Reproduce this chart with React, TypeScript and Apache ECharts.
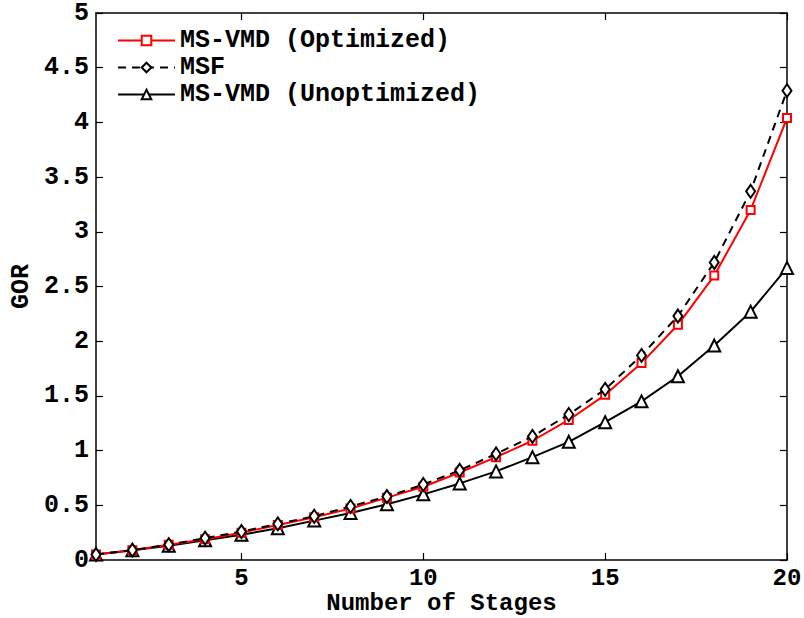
import React, { useEffect, useRef } from "react";
import * as echarts from "echarts";

const stages = [1, 2, 3, 4, 5, 6, 7, 8, 9, 10, 11, 12, 13, 14, 15, 16, 17, 18, 19, 20];
const optimized = [0.05, 0.09, 0.14, 0.19, 0.25, 0.32, 0.39, 0.47, 0.57, 0.67, 0.8, 0.94, 1.09, 1.28, 1.51, 1.8, 2.15, 2.6, 3.2, 4.04];
const msf = [0.05, 0.09, 0.14, 0.2, 0.26, 0.33, 0.4, 0.49, 0.58, 0.69, 0.82, 0.97, 1.13, 1.33, 1.56, 1.87, 2.23, 2.72, 3.37, 4.29];
const unoptimized = [0.05, 0.09, 0.13, 0.18, 0.23, 0.29, 0.36, 0.43, 0.51, 0.6, 0.7, 0.81, 0.94, 1.08, 1.26, 1.45, 1.68, 1.96, 2.27, 2.67];
const xTicks = [5, 10, 15, 20];
const seriesNames = ["MS-VMD (Optimized)", "MSF", "MS-VMD (Unoptimized)"];

const FONT = "'Liberation Mono', 'DejaVu Sans Mono', monospace";
const FS = 25;

export default function App() {
  const ref = useRef<HTMLDivElement>(null);
  useEffect(() => {
    if (!ref.current) return;
    const chart = echarts.init(ref.current, null, { renderer: "svg" });
    const pairs = (ys: number[]) => stages.map((x, i) => [x, ys[i]]);
    const axisLine = { show: true, onZero: false, lineStyle: { color: "#000", width: 1.5 } };
    const xTick = { show: true, inside: true, length: 7, customValues: xTicks, lineStyle: { color: "#000", width: 1.2 } };
    const yTick = { show: true, inside: true, length: 7, lineStyle: { color: "#000", width: 1.2 } };
    const textBase = { fontFamily: FONT, fontWeight: "bold", fontSize: FS, color: "#000" };
    const xText = { ...textBase, fontSize: 24, lineHeight: 24 };
    chart.setOption({
      animation: false,
      backgroundColor: "#fff",
      grid: { left: 96, right: 17, top: 13, bottom: 58, containLabel: false, outerBoundsMode: "none" },
      legend: {
        orient: "vertical",
        left: 112,
        top: 23,
        itemWidth: 57,
        itemHeight: 12,
        itemGap: 2,
        data: seriesNames,
        textStyle: { ...textBase, lineHeight: 25 },
      },
      xAxis: [
        {
          type: "value",
          min: 1,
          max: 20,
          position: "bottom",
          axisLine,
          axisTick: xTick,
          splitLine: { show: false },
          axisLabel: { customValues: xTicks, ...xText, margin: 6 },
          name: "Number of Stages",
          nameLocation: "middle",
          nameGap: 31,
          nameMoveOverlap: false,
          nameTextStyle: xText,
        },
        {
          type: "value",
          min: 1,
          max: 20,
          position: "top",
          axisLine,
          axisTick: xTick,
          axisLabel: { show: false },
          splitLine: { show: false },
        },
      ],
      yAxis: [
        {
          type: "value",
          min: 0,
          max: 5,
          interval: 0.5,
          position: "left",
          axisLine,
          axisTick: yTick,
          splitLine: { show: false },
          axisLabel: { ...textBase, margin: 7 },
          name: "GOR",
          nameLocation: "middle",
          nameGap: 62,
          nameMoveOverlap: false,
          nameRotate: 90,
          nameTextStyle: textBase,
        },
        {
          type: "value",
          min: 0,
          max: 5,
          interval: 0.5,
          position: "right",
          axisLine,
          axisTick: yTick,
          axisLabel: { show: false },
          splitLine: { show: false },
        },
      ],
      series: [
        {
          name: seriesNames[0],
          type: "line",
          data: pairs(optimized),
          symbol: "emptyRect",
          symbolSize: 8,
          color: "#ff0000",
          lineStyle: { color: "#ff0000", width: 2 },
          itemStyle: { color: "#ff0000", borderWidth: 1.6 },
          z: 3,
        },
        {
          name: seriesNames[1],
          type: "line",
          data: pairs(msf),
          symbol: "emptyDiamond",
          symbolSize: [9, 13],
          color: "#000",
          lineStyle: { color: "#000", width: 2, type: [8, 6] },
          itemStyle: { color: "#000", borderWidth: 1.6 },
          z: 4,
        },
        {
          name: seriesNames[2],
          type: "line",
          data: pairs(unoptimized),
          symbol: "emptyTriangle",
          symbolSize: 12,
          color: "#000",
          lineStyle: { color: "#000", width: 2 },
          itemStyle: { color: "#000", borderWidth: 1.6 },
          z: 2,
        },
      ],
    });
    return () => chart.dispose();
  }, []);
  return <div ref={ref} style={{ width: 804, height: 618, position: "absolute", left: 0, top: 0 }} />;
}
